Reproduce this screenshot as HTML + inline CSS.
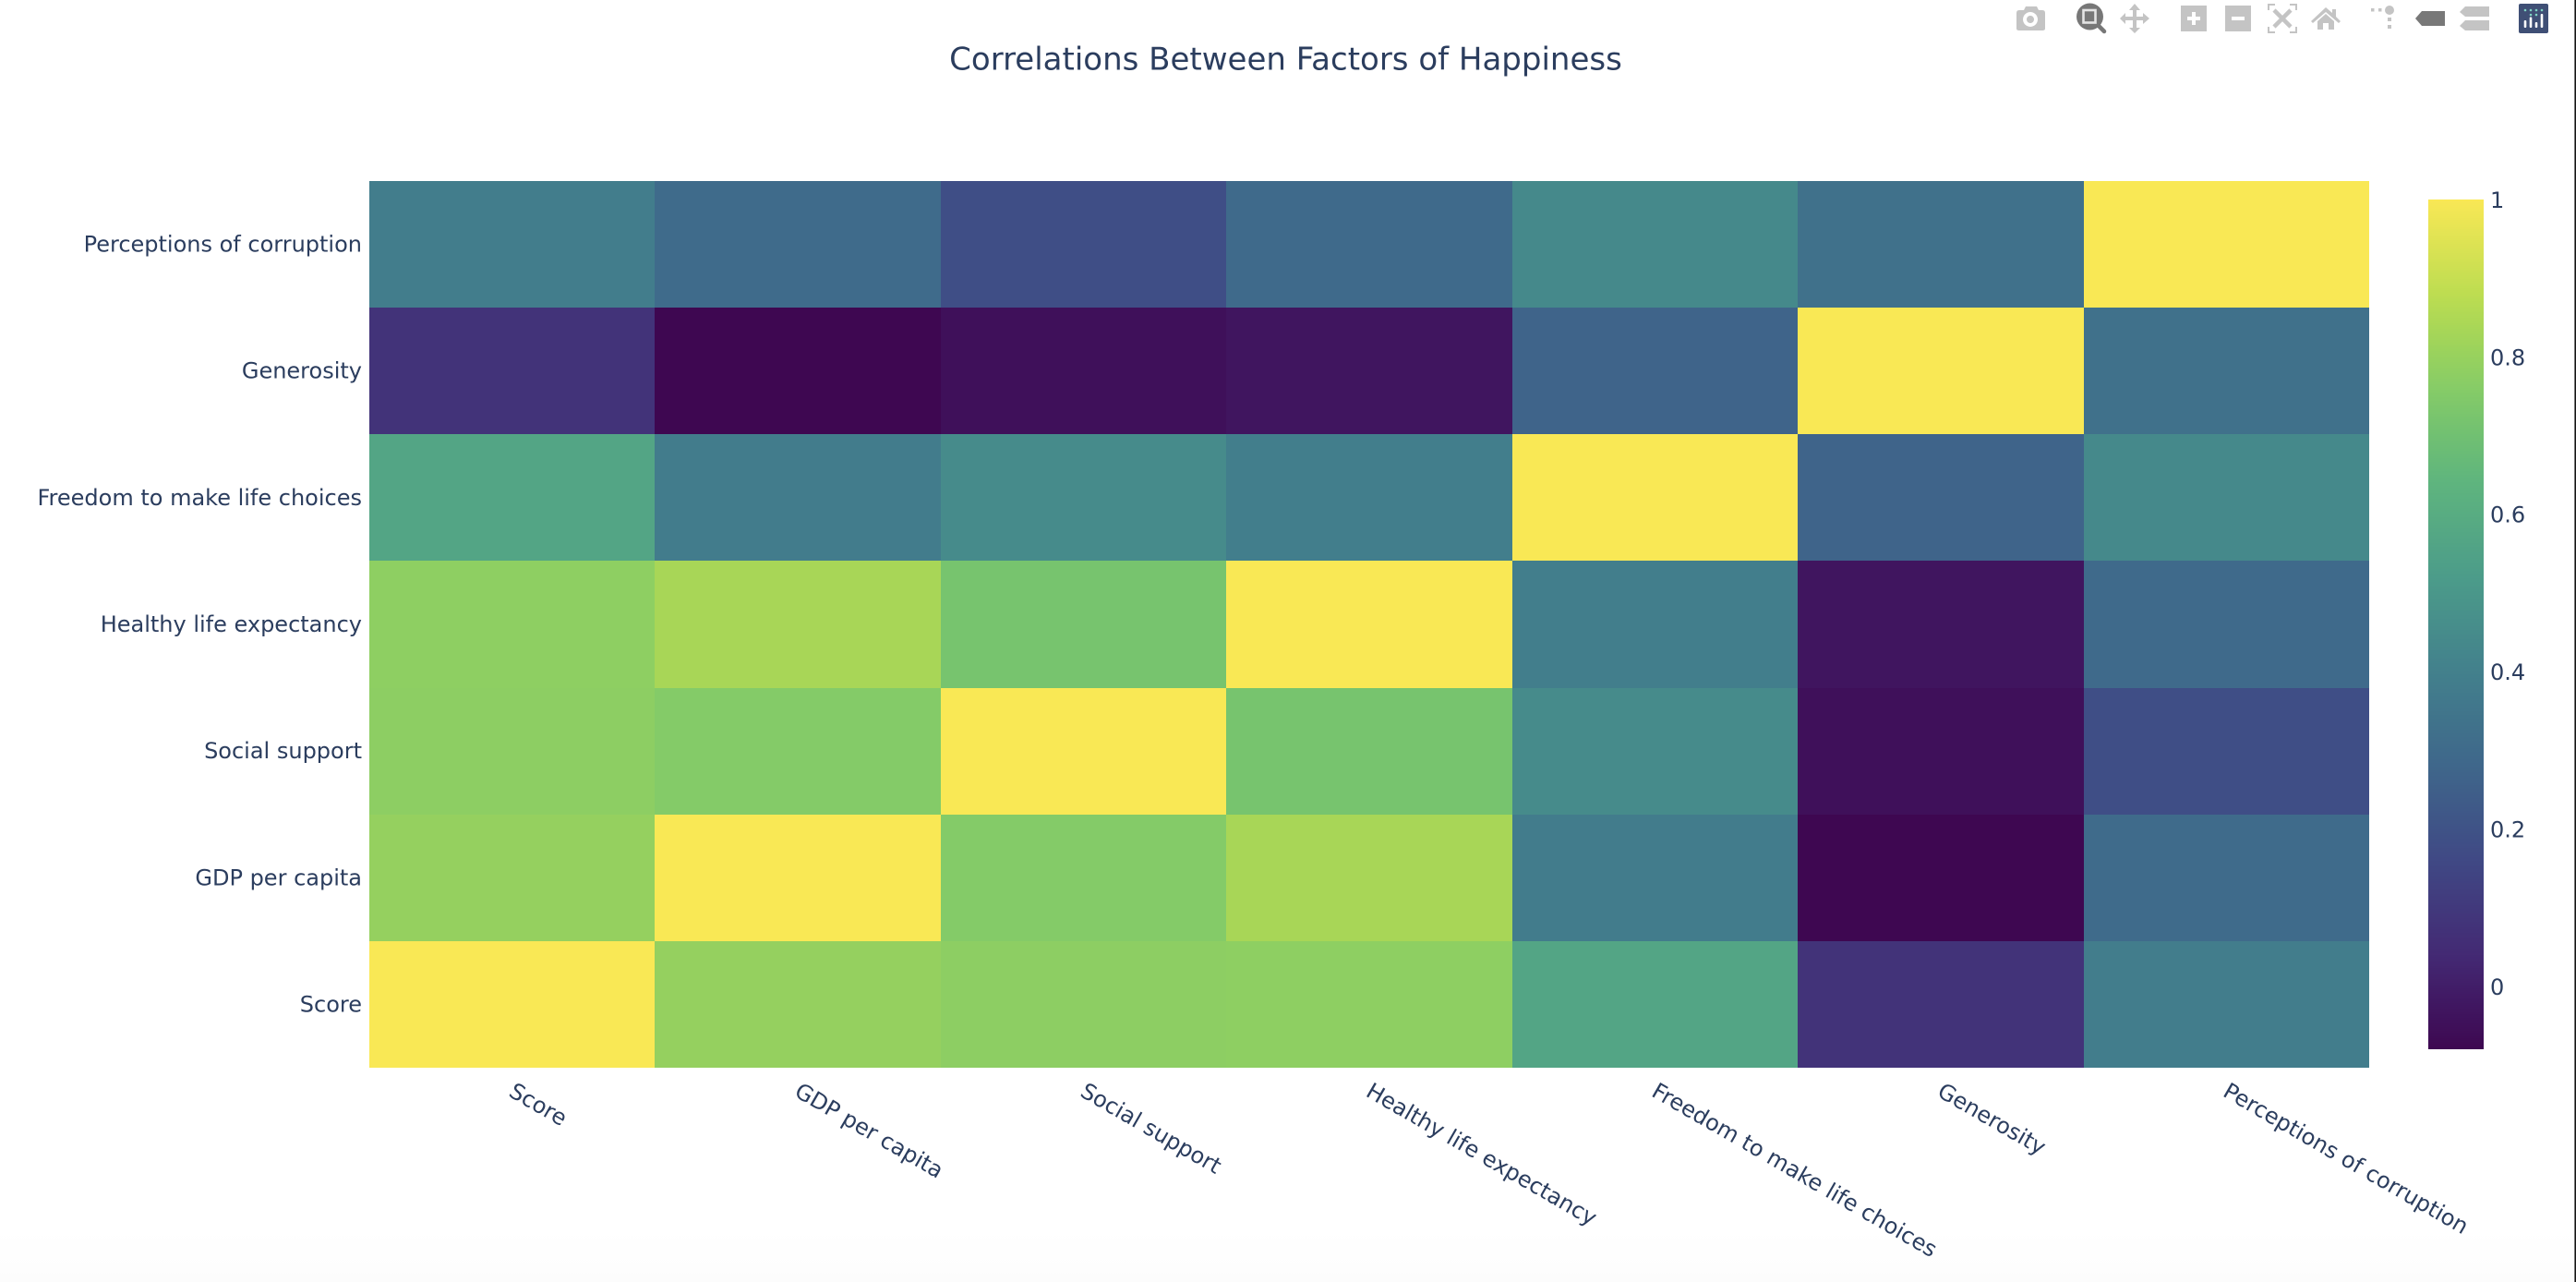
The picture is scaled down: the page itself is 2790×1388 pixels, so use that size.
<!DOCTYPE html>
<html lang="en">
<head>
<meta charset="utf-8">
<title>Correlations Between Factors of Happiness</title>
<style>
html,body{margin:0;padding:0;background:#fff;width:2790px;height:1388px;overflow:hidden}
svg{display:block;position:absolute;left:0;top:0}
text{font-family:"DejaVu Sans","Liberation Sans",sans-serif;fill:#2b3d5e}
.tick{font-size:24px}
</style>
</head>
<body>
<svg id="chart" xmlns="http://www.w3.org/2000/svg" width="2790" height="1388" viewBox="0 0 2790 1388">
  <defs>
    <linearGradient id="bottom-fade" x1="0" y1="0" x2="0" y2="1">
      <stop offset="0" stop-color="#fdfdfd" stop-opacity="0"/>
      <stop offset="1" stop-color="#fcfcfc" stop-opacity="1"/>
    </linearGradient>
  </defs>
  <rect x="0" y="0" width="2790" height="1388" fill="#ffffff"/>
  <rect x="0" y="1330" width="2788" height="58" fill="url(#bottom-fade)"/>
  <rect x="2788.4" y="0" width="1.6" height="1388" fill="#141414"/>
  <text x="1392.5" y="75.5" text-anchor="middle" font-size="34">Correlations Between Factors of Happiness</text>
  <g id="cells"></g>
  <g id="y-labels"></g>
  <g id="x-labels"></g>
  <g id="colorbar"></g>

  <g>
    <g fill="#c4c4c4">
      <path fill-rule="evenodd" d="M2184 14q0-3 3-3h5l2-4h12l2 4h4q3 0 3 3v17q0 2-3 2h-25q-3 0-3-2zM2199 13a8 8 0 1 0 .01 0zM2199 17a4 4 0 1 1-.01 0z"/>
    </g>
    <g>
      <path d="M2272 27l7 7" stroke="#777" stroke-width="4.5" stroke-linecap="round"/>
      <circle cx="2263.5" cy="18" r="14.5" fill="#777"/>
      <rect x="2256.5" y="11" width="13" height="13.5" fill="#777" stroke="#e4e4e4" stroke-width="2.6"/>
    </g>
    <g>
      <path fill="#c4c4c4" d="M2312 4l6 7h-4v7h7v-4l7 6-7 6v-4h-7v8h4l-6 6-6-6h4v-8h-8v4l-6-6 6-6v4h8v-7h-4z"/>
    </g>
    <g>
      <rect x="2362" y="6" width="28" height="28" fill="#c4c4c4"/>
      <path d="M2369 20h14M2376 13v14" stroke="#fff" stroke-width="4"/>
    </g>
    <g>
      <rect x="2410" y="6" width="28" height="28" fill="#c4c4c4"/>
      <path d="M2417 20h14" stroke="#fff" stroke-width="4"/>
    </g>
    <g>
      <path d="M2464 5h-7v6M2480 5h7v6M2464 35h-7v-6M2480 35h7v-6" fill="none" stroke="#c4c4c4" stroke-width="2"/>
      <path d="M2463 11l18 18M2481 11l-18 18" stroke="#c4c4c4" stroke-width="4.5"/>
    </g>
    <g>
      <path fill="#c4c4c4" d="M2519 8l7 6v-4h4v8l5 5-2 2-14-12-14 12-2-2zM2510 23l9-8 9 8v9h-6v-7h-6v7h-6z"/>
    </g>
    <g fill="#c4c4c4">
      <rect x="2568" y="9" width="3.5" height="3.5"/>
      <rect x="2576" y="9" width="3.5" height="3.5"/>
      <circle cx="2588" cy="11" r="5"/>
      <rect x="2586" y="19" width="4" height="4"/>
      <rect x="2586" y="27" width="4" height="4"/>
    </g>
    <g>
      <path fill="#787878" d="M2616 20l7-8h25v16h-25z"/>
    </g>
    <g fill="#c4c4c4">
      <path d="M2664 13l6-6h26v11h-26z"/>
      <path d="M2664 28l6-6h26v11h-26z"/>
    </g>
    <g>
      <rect x="2728" y="4" width="32" height="32" rx="2" fill="#3f4f75"/>
      <g fill="#7fd4c4">
        <circle cx="2735" cy="11" r="1.3"/><circle cx="2741" cy="11" r="1.3"/><circle cx="2747" cy="11" r="1.3"/><circle cx="2753" cy="11" r="1.3"/>
        <circle cx="2741" cy="16" r="1.3"/><circle cx="2747" cy="16" r="1.3"/>
      </g>
      <g fill="#ffffff">
        <rect x="2733.7" y="22" width="2.6" height="8" rx="1"/>
        <rect x="2739.7" y="18.5" width="2.6" height="11.5" rx="1"/>
        <rect x="2745.7" y="24" width="2.6" height="6" rx="1"/>
        <rect x="2751.7" y="15" width="2.6" height="15" rx="1"/>
      </g>
    </g>
  </g>
</svg>

<script>
// Chart data
const categories = ["Score", "GDP per capita", "Social support", "Healthy life expectancy", "Freedom to make life choices", "Generosity", "Perceptions of corruption"];
const rowScore      = [1.000, 0.794, 0.777, 0.780, 0.567, 0.076, 0.386];
const rowGdp        = [0.794, 1.000, 0.755, 0.835, 0.379, -0.080, 0.299];
const rowSocial     = [0.777, 0.755, 1.000, 0.719, 0.447, -0.048, 0.182];
const rowHealth     = [0.780, 0.835, 0.719, 1.000, 0.390, -0.030, 0.296];
const rowFreedom    = [0.567, 0.379, 0.447, 0.390, 1.000, 0.270, 0.439];
const rowGenerosity = [0.076, -0.080, -0.048, -0.030, 0.270, 1.000, 0.327];
const rowCorruption = [0.386, 0.299, 0.182, 0.296, 0.439, 0.327, 1.000];
const colorbarTicks = [0, 0.2, 0.4, 0.6, 0.8, 1];
const colorbarTickLabels = ["0", "0.2", "0.4", "0.6", "0.8", "1"];
const viridisColors = ["#440154", "#482878", "#3e4989", "#31688e", "#26828e", "#1f9e89", "#35b779", "#6ece58", "#b5de2b", "#fde725"];

const matrix = [rowScore, rowGdp, rowSocial, rowHealth, rowFreedom, rowGenerosity, rowCorruption];
const zMin = Math.min.apply(null, matrix.map(function (r) { return Math.min.apply(null, r); }));
const zMax = Math.max.apply(null, matrix.map(function (r) { return Math.max.apply(null, r); }));

const NS = "http://www.w3.org/2000/svg";
const plot = { left: 400, right: 2566, top: 196, bottom: 1156 };
const bar = { left: 2630, right: 2690, top: 216, bottom: 1136 };

function xEdge(i) { return plot.left + (plot.right - plot.left) * i / categories.length; }
function yEdge(i) { return plot.bottom - (plot.bottom - plot.top) * i / categories.length; }
function barY(v) { return bar.bottom - (bar.bottom - bar.top) * (v - zMin) / (zMax - zMin); }

function hexToRgb(h) {
  return [parseInt(h.slice(1, 3), 16), parseInt(h.slice(3, 5), 16), parseInt(h.slice(5, 7), 16)];
}
function toLinear(c) { c /= 255; return c <= 0.04045 ? c / 12.92 : Math.pow((c + 0.055) / 1.055, 2.4); }
function toGamma(c) { c = Math.max(0, Math.min(1, c)); return Math.round(255 * (c <= 0.0031308 ? 12.92 * c : 1.055 * Math.pow(c, 1 / 2.4) - 0.055)); }
// The reference was captured on a wide-gamut display: sRGB values appear as Display P3 values.
function displayColor(rgb) {
  const r = toLinear(rgb[0]), g = toLinear(rgb[1]), b = toLinear(rgb[2]);
  const R = 0.8225 * r + 0.1774 * g;
  const G = 0.0332 * r + 0.9669 * g;
  const B = 0.0171 * r + 0.0724 * g + 0.9108 * b;
  return "rgb(" + toGamma(R) + "," + toGamma(G) + "," + toGamma(B) + ")";
}
function colorFor(v) {
  const t = Math.max(0, Math.min(1, (v - zMin) / (zMax - zMin))) * (viridisColors.length - 1);
  const i = Math.min(Math.floor(t), viridisColors.length - 2);
  const a = hexToRgb(viridisColors[i]), b = hexToRgb(viridisColors[i + 1]), f = t - i;
  return displayColor([a[0] + (b[0] - a[0]) * f, a[1] + (b[1] - a[1]) * f, a[2] + (b[2] - a[2]) * f]);
}
function make(tag, attrs, parent) {
  const el = document.createElementNS(NS, tag);
  Object.keys(attrs).forEach(function (k) { el.setAttribute(k, attrs[k]); });
  parent.appendChild(el);
  return el;
}

const cellsGroup = document.getElementById("cells");
matrix.forEach(function (row, r) {
  row.forEach(function (value, c) {
    const cell = make("rect", {
      x: Math.round(xEdge(c)), y: Math.round(yEdge(r + 1)),
      width: Math.round(xEdge(c + 1)) - Math.round(xEdge(c)),
      height: Math.round(yEdge(r)) - Math.round(yEdge(r + 1)),
      fill: colorFor(value), "shape-rendering": "crispEdges"
    }, cellsGroup);
    
    
  });
});

const yLabels = document.getElementById("y-labels");
categories.forEach(function (name, i) {
  const label = make("text", {
    x: 392, y: (yEdge(i) + yEdge(i + 1)) / 2 + 8, "text-anchor": "end", "class": "tick"
  }, yLabels);
  label.textContent = name;
  
  
});

const xLabels = document.getElementById("x-labels");
categories.forEach(function (name, i) {
  const ax = (xEdge(i) + xEdge(i + 1)) / 2 - 5, ay = 1186;
  const label = make("text", {
    x: ax, y: ay, transform: "rotate(30 " + ax + " " + ay + ")", "class": "tick"
  }, xLabels);
  label.textContent = name;
  
  
});

const colorbarGroup = document.getElementById("colorbar");
for (let py = bar.top; py < bar.bottom; py += 2) {
  const v = zMax - (zMax - zMin) * (py + 1 - bar.top) / (bar.bottom - bar.top);
  const strip = make("rect", {
    x: bar.left, y: py, width: bar.right - bar.left, height: 2,
    fill: colorFor(v), "shape-rendering": "crispEdges"
  }, colorbarGroup);
  
  
}
colorbarTicks.forEach(function (t, i) {
  const label = make("text", {
    x: 2697, y: barY(t) + 9, "class": "tick"
  }, colorbarGroup);
  label.textContent = colorbarTickLabels[i];
  
  
});
</script>
</body>
</html>
